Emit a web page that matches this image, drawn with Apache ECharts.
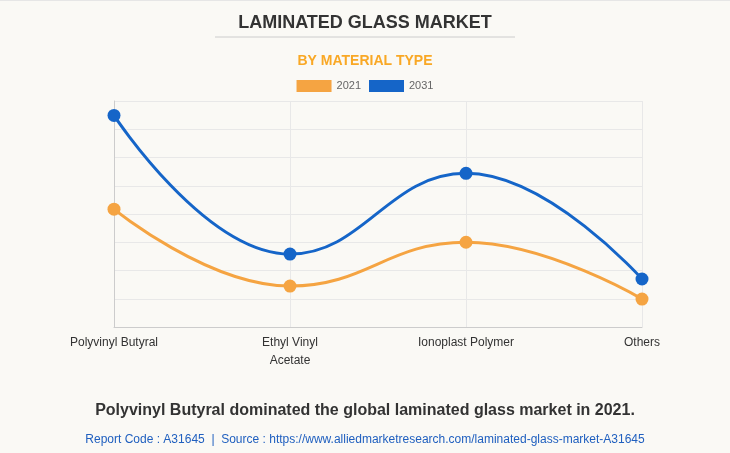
<!DOCTYPE html>
<html>
<head>
<meta charset="utf-8">
<script src="https://cdn.jsdelivr.net/npm/echarts@6/dist/echarts.min.js"></script>
<style>
html,body{margin:0;padding:0;background:#faf9f5;}
#c{width:730px;height:453px;}
</style>
</head>
<body>
<div id="c"></div>
<script>
var categories = ['Polyvinyl Butyral', 'Ethyl Vinyl\nAcetate', 'Ionoplast Polymer', 'Others'];
var values2021 = [4.17, 1.45, 3.0, 0.99];
var values2031 = [7.49, 2.58, 5.44, 1.70];

var chart = echarts.init(document.getElementById('c'));
chart.setOption({
  backgroundColor: '#faf9f5',
  animation: false,
  title: [
    {text: 'LAMINATED GLASS MARKET', left: 'center', top: 9,
     textStyle: {fontFamily: 'Arial, Liberation Sans', fontSize: 18, fontWeight: 'bold', color: '#333'}},
    {text: 'BY MATERIAL TYPE', left: 'center', top: 49,
     textStyle: {fontFamily: 'Arial, Liberation Sans', fontSize: 14, fontWeight: 'bold', color: '#f9a825'}},
    {text: 'Polyvinyl Butyral dominated the global laminated glass market in 2021.', left: 'center', top: 398,
     textStyle: {fontFamily: 'Arial, Liberation Sans', fontSize: 16, fontWeight: 'bold', color: '#333'}},
    {text: 'Report Code : A31645  |  Source : https://www.alliedmarketresearch.com/laminated-glass-market-A31645', left: 'center', top: 429,
     textStyle: {fontFamily: 'Arial, Liberation Sans', fontSize: 12, fontWeight: 'normal', color: '#1f5fbf'}}
  ],
  graphic: [
    {type: 'line', shape: {x1: 215, y1: 37, x2: 515, y2: 37}, style: {stroke: '#ccc', lineWidth: 1}},
    {type: 'line', shape: {x1: 0, y1: 0.5, x2: 730, y2: 0.5}, style: {stroke: '#e6e6e6', lineWidth: 1}}
  ],
  legend: {
    top: 75, left: 'center', itemWidth: 35, itemHeight: 12, itemGap: 8,
    icon: 'rect',
    textStyle: {fontFamily: 'Arial, Liberation Sans', fontSize: 11, color: '#666'},
    data: ['2021', '2031']
  },
  grid: {left: 114, right: 88, top: 101, bottom: 126},
  xAxis: {
    type: 'category', data: categories, boundaryGap: false,
    axisLine: {lineStyle: {color: '#ccc'}},
    axisTick: {show: false},
    axisLabel: {fontFamily: 'Arial, Liberation Sans', fontSize: 12, color: '#333', margin: 7, lineHeight: 18},
    splitLine: {show: true, lineStyle: {color: '#e8e8e8'}}
  },
  yAxis: {
    type: 'value', min: 0, max: 8, interval: 1,
    axisLabel: {show: false},
    axisLine: {show: true, lineStyle: {color: '#ccc'}},
    axisTick: {show: false},
    splitLine: {lineStyle: {color: '#e8e8e8'}}
  },
  series: [
    {name: '2021', type: 'line', data: values2021, smooth: 0.45,
     symbol: 'circle', symbolSize: 13,
     itemStyle: {color: '#f5a442'}, lineStyle: {width: 3, color: '#f5a442'}},
    {name: '2031', type: 'line', data: values2031, smooth: 0.45,
     symbol: 'circle', symbolSize: 13,
     itemStyle: {color: '#1565c8'}, lineStyle: {width: 3, color: '#1565c8'}}
  ]
});
</script>
</body>
</html>
